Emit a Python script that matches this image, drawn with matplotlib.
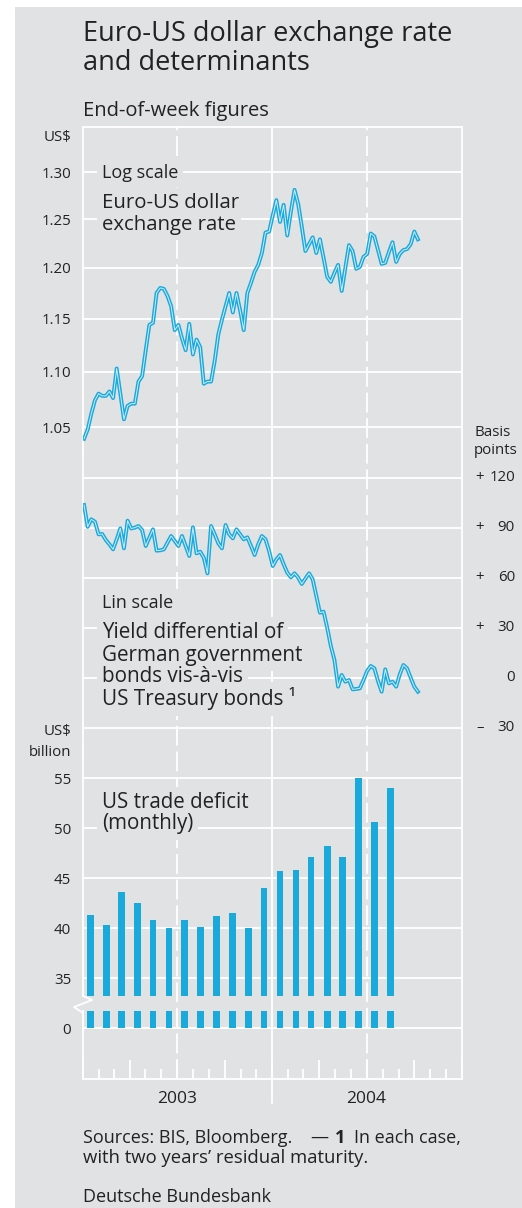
import numpy as np
import pandas as pd
import matplotlib
matplotlib.use('Agg')
import matplotlib.pyplot as plt
from matplotlib.dates import MonthLocator
from matplotlib.ticker import FixedLocator, FixedFormatter, NullLocator, NullFormatter
from matplotlib.transforms import blended_transform_factory
from matplotlib.lines import Line2D
from matplotlib.patches import Rectangle

plt.rcParams['font.family'] = ['Open Sans', 'DejaVu Sans']

# ---- data ----
week_start = '2003-01-03'   # end-of-week figures
eur_usd = [1.040, 1.048, 1.062, 1.074, 1.080, 1.078, 1.078, 1.082, 1.076, 1.103,
           1.080, 1.057, 1.069, 1.071, 1.071, 1.091, 1.096, 1.120, 1.144, 1.146,
           1.175, 1.180, 1.179, 1.172, 1.162, 1.139, 1.144, 1.131, 1.120, 1.145,
           1.116, 1.130, 1.123, 1.089, 1.091, 1.091, 1.110, 1.135, 1.149, 1.162,
           1.175, 1.156, 1.175, 1.158, 1.139, 1.175, 1.185, 1.196, 1.203, 1.215,
           1.236, 1.237, 1.254, 1.270, 1.247, 1.265, 1.233, 1.258, 1.281, 1.266,
           1.242, 1.217, 1.224, 1.231, 1.215, 1.229, 1.210, 1.191, 1.186, 1.195,
           1.203, 1.177, 1.200, 1.223, 1.217, 1.199, 1.201, 1.211, 1.214, 1.235,
           1.232, 1.218, 1.204, 1.205, 1.216, 1.226, 1.206, 1.214, 1.218, 1.219,
           1.224, 1.237, 1.229]
yield_diff = [103.6, 90.5, 95.0, 93.6, 86.0, 86.2, 82.6, 80.0, 77.0, 83.0,
              89.6, 77.6, 94.2, 89.5, 90.0, 91.0, 88.6, 79.0, 84.0, 89.0,
              76.2, 76.4, 77.0, 81.0, 85.0, 82.0, 79.0, 85.0, 79.0, 73.0,
              90.2, 74.6, 75.6, 72.0, 62.6, 91.0, 86.0, 80.6, 77.6, 91.6,
              86.0, 83.6, 89.0, 86.0, 83.0, 84.2, 79.0, 73.6, 80.0, 85.0,
              83.0, 76.0, 67.0, 71.0, 73.6, 68.0, 63.0, 60.2, 62.6, 60.0,
              56.2, 59.5, 62.6, 59.0, 49.0, 39.0, 39.6, 30.0, 19.0, 10.6,
              -5.4, 1.6, -2.4, -1.4, -7.0, -6.8, -6.4, -1.4, 4.0, 7.0,
              5.6, -2.0, -8.4, 5.0, -3.4, -2.4, -5.4, 2.0, 7.6, 5.6,
              0.0, -5.4, -8.4]
deficit_start = '2003-01-01'
trade_deficit = [41.3, 40.3, 43.6, 42.5, 40.8, 40.0, 40.8, 40.1, 41.2, 41.5,
                 40.0, 44.0, 45.7, 45.8, 47.1, 48.2, 47.1, 55.0, 50.6, 54.0]

fx_ticks = [1.05, 1.10, 1.15, 1.20, 1.25, 1.30]
yd_ticks = [120, 90, 60, 30, 0, -30]
bar_ticks = [35, 40, 45, 50, 55]
years = ['2003', '2004']

# ---- style ----
BG = '#e1e2e4'
BLUE = '#1aa9db'
TXT = '#222222'
GRID = 'white'
W, H = 522, 1208
TICK_FS = 10.8

weeks = pd.date_range(week_start, periods=len(eur_usd), freq='7D')
months = pd.date_range(deficit_start, periods=len(trade_deficit), freq='MS') + pd.Timedelta(days=15)
x0, x1 = pd.Timestamp('2003-01-01'), pd.Timestamp('2005-01-01')


def box(top, bottom, left=83, right=462):
    return [left / W, 1 - bottom / H, (right - left) / W, (bottom - top) / H]


def fy(py):
    return 1 - py / H


fig = plt.figure(figsize=(W / 100, H / 100), dpi=100)
fig.patch.set_facecolor('white')
fig.add_artist(Rectangle((15 / W, 0), 1 - 15 / W, 1 - 7 / H, transform=fig.transFigure,
                         facecolor=BG, edgecolor='none', zorder=-10))

# background frame with the date grid
ax_bg = fig.add_axes(box(127, 1079))
ax_bg.set_facecolor('none')
ax_bg.set_xlim(x0, x1)
ax_bg.set_ylim(0, 1)
ax_bg.set_yticks([])
for s in ['top', 'right', 'bottom']:
    ax_bg.spines[s].set_color(GRID)
    ax_bg.spines[s].set_linewidth(1.3)
ax_bg.spines['left'].set_visible(False)
ax_bg.xaxis.set_major_locator(MonthLocator(bymonth=[1, 4, 7, 10]))
ax_bg.xaxis.set_minor_locator(MonthLocator())
ax_bg.xaxis.set_major_formatter(NullFormatter())
ax_bg.tick_params(axis='x', which='major', direction='in', length=13.7, width=1.3, color=GRID)
ax_bg.tick_params(axis='x', which='minor', direction='in', length=7.2, width=1.3, color=GRID)
for d in ['2003-07-01', '2004-07-01']:
    ax_bg.axvline(pd.Timestamp(d), color=GRID, lw=1.3, ls=(0, (11, 3.2)))
ax_bg.axvline(pd.Timestamp('2004-01-01'), color=GRID, lw=1.3)
ax_bg.plot([pd.Timestamp('2004-01-01')] * 2, [0, -24 / 952], color=GRID, lw=1.3,
           clip_on=False)
for y in years:
    ax_bg.text(pd.Timestamp(f'{y}-07-01'), -20 / 952, y, ha='center', va='center',
               fontsize=12.5, color=TXT)


def panel(top, bottom):
    ax = fig.add_axes(box(top, bottom))
    ax.set_facecolor('none')
    ax.set_xlim(x0, x1)
    ax.xaxis.set_visible(False)
    for s in ['top', 'right', 'bottom']:
        ax.spines[s].set_visible(False)
    ax.spines['left'].set_color(GRID)
    ax.spines['left'].set_linewidth(1.3)
    ax.grid(axis='y', color=GRID, lw=1.3)
    ax.set_axisbelow(True)
    ax.tick_params(axis='y', length=0, pad=8.5, labelsize=TICK_FS, labelcolor=TXT)
    return ax


def blue_line(ax, x, y):
    ax.plot(x, y, color=BLUE, lw=2.8, solid_joinstyle='round', zorder=3)
    ax.plot(x, y, color='#cdeefb', lw=0.7, solid_joinstyle='round', zorder=4)


# exchange rate, log scale
ax_fx = panel(127, 452)
ax_fx.set_yscale('log')
ax_fx.set_ylim(1.0285, 1.3502)
ax_fx.yaxis.set_major_locator(FixedLocator(fx_ticks))
ax_fx.yaxis.set_major_formatter(FixedFormatter([f'{v:.2f}' for v in fx_ticks]))
ax_fx.yaxis.set_minor_locator(NullLocator())
blue_line(ax_fx, weeks, eur_usd)

# yield differential, linear
ax_yd = panel(452, 752)
ax_yd.set_ylim(-44.6, 135.4)
ax_yd.set_yticks(yd_ticks)
ax_yd.set_yticklabels([])
blue_line(ax_yd, weeks, yield_diff)
tr = blended_transform_factory(fig.transFigure, ax_yd.transData)
for v in yd_ticks:
    sign = '+' if v > 0 else ('\u2013' if v < 0 else '')
    ax_yd.text(480 / W, v, sign, transform=tr, ha='center', va='center', fontsize=TICK_FS,
               color=TXT)
    ax_yd.text(515 / W, v, str(abs(v)), transform=tr, ha='right', va='center',
               fontsize=TICK_FS, color=TXT)

# trade deficit, broken axis
ax_bar = panel(752, 996)
ax_bar.set_ylim(33.23, 57.63)
ax_bar.set_yticks(bar_ticks)
ax_bar.set_yticklabels([str(v) for v in bar_ticks])
lo = ax_bar.get_ylim()[0]
ax_bar.bar(months, np.array(trade_deficit) - lo, bottom=lo, width=13, color=BLUE, zorder=3)

ax_low = panel(1011, 1079)
ax_low.set_ylim(-5.07, 1.73)
ax_low.set_yticks([0])
ax_low.set_yticklabels(['0'])
ax_low.bar(months, [1.7] * len(months), width=13, color=BLUE, zorder=3)

fig.add_artist(Line2D([83 / W, 92 / W, 74 / W, 83 / W], [fy(996), fy(1000), fy(1007), fy(1013)],
                      color=GRID, lw=1.3, transform=fig.transFigure))


# labels: a grey box behind each line, the text itself on top
def boxed_lines(lines, ys, size):
    for s, y in zip(lines, ys):
        fig.text(102 / W, fy(y), s, ha='left', va='center', fontsize=size, color=BG,
                 zorder=3, bbox=dict(boxstyle='square,pad=0.25', fc=BG, ec='none'))
    for s, y in zip(lines, ys):
        fig.text(102 / W, fy(y), s, ha='left', va='center', fontsize=size, color=TXT, zorder=4)


boxed_lines(['Log scale'], [172.5], 13)
boxed_lines(['Euro-US dollar', 'exchange rate'], [203, 225], 14.7)
boxed_lines(['Lin scale'], [603], 13)
boxed_lines(['Yield differential of', 'German government', 'bonds vis-\u00e0-vis',
             'US Treasury bonds \u00b9'], [633, 655, 677, 699], 14.9)
boxed_lines(['US trade deficit', '(monthly)'], [803, 824], 14.8)

fig.text(71 / W, fy(138), 'US$', ha='right', va='center', fontsize=TICK_FS, color=TXT)
fig.text(71 / W, fy(732), 'US$', ha='right', va='center', fontsize=TICK_FS, color=TXT)
fig.text(71 / W, fy(752), 'billion', ha='right', va='center', fontsize=TICK_FS, color=TXT)
fig.text(474 / W, fy(432), 'Basis', ha='left', va='center', fontsize=TICK_FS, color=TXT)
fig.text(474 / W, fy(451), 'points', ha='left', va='center', fontsize=TICK_FS, color=TXT)

fig.text(83 / W, fy(41), 'Euro-US dollar exchange rate', ha='left', va='baseline',
         fontsize=19.5, color=TXT)
fig.text(83 / W, fy(70), 'and determinants', ha='left', va='baseline', fontsize=19.5, color=TXT)
fig.text(83 / W, fy(116), 'End-of-week figures', ha='left', va='baseline', fontsize=14.5,
         color=TXT)

fig.text(83 / W, fy(1143), 'Sources: BIS, Bloomberg.', ha='left', va='baseline',
         fontsize=13, color=TXT)
fig.text(328 / W, fy(1143), '\u2014', ha='right', va='baseline', fontsize=13, color=TXT)
fig.text(335 / W, fy(1143), '1', ha='left', va='baseline', fontsize=13, color=TXT,
         fontweight='bold')
fig.text(461 / W, fy(1143), 'In each case,', ha='right', va='baseline', fontsize=13, color=TXT)
fig.text(83 / W, fy(1163), 'with two years\u2019 residual maturity.', ha='left', va='baseline',
         fontsize=13.3, color=TXT)
fig.text(83 / W, fy(1202), 'Deutsche Bundesbank', ha='left', va='baseline', fontsize=13,
         color=TXT)

fig.savefig('out.png', dpi=100, facecolor=fig.get_facecolor())
